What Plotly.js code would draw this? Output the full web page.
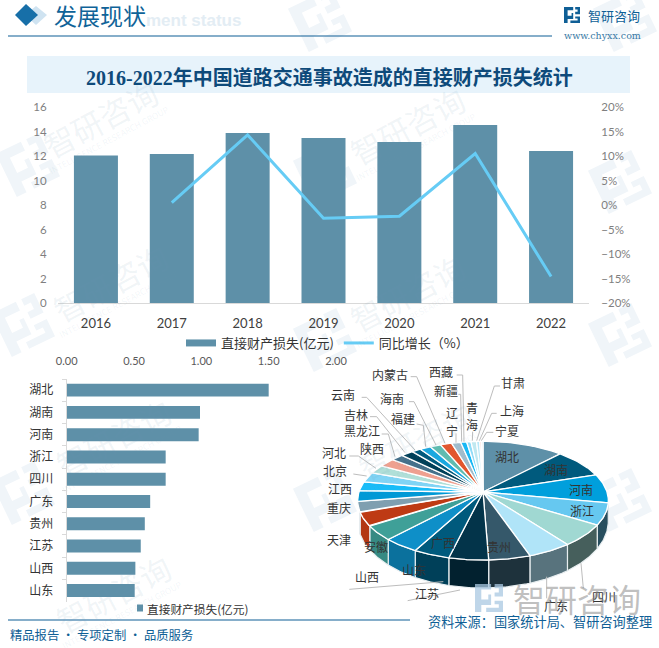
<!DOCTYPE html>
<html><head><meta charset="utf-8">
<script src="https://cdn.plot.ly/plotly-3.0.0.min.js"></script>
<style>html,body{margin:0;padding:0;background:#fff}#c{width:659px;height:648px}</style></head>
<body><div id="c"></div>
<script>
const years=['2016','2017','2018','2019','2020','2021','2022'];
const lossValues=[12.05,12.16,13.88,13.47,13.14,14.53,12.41];
const growthValues=[null,0.5,14.3,-2.7,-2.3,10.5,-14.6];
const provinces=['湖北','湖南','河南','浙江','四川','广东','贵州','江苏','山西','山东','广西','安徽','天津','重庆','江西','北京','河北','陕西','黑龙江','吉林','云南','海南','福建','内蒙古','辽宁','西藏','新疆','青海','甘肃','上海','宁夏'];
const provinceValues=[1.50,0.99,0.98,0.735,0.735,0.62,0.58,0.55,0.51,0.505,0.49,0.46,0.36,0.36,0.31,0.34,0.29,0.30,0.23,0.23,0.17,0.20,0.20,0.21,0.17,0.11,0.08,0.10,0.06,0.03,0.03];
const sliceColors=['#5e90a8','#005a7d','#009fdc','#66c8f0','#a0d8d2','#b0e4f8','#35586a','#03344a','#005a7d','#0e8fc8','#3fa098','#be3a14','#7f9fb0','#0099d6','#18bcf8','#80d4f5','#b0dfd8','#eea090','#45708a','#003f58','#005a7d','#1aa8e0','#60bcb0','#e2562e','#a0bccc','#18b8f5','#90dcf8','#c0e8f0','#b8e8f8','#f0b0a0','#c8e0e8'];
const topTen=provinces.slice(0,10), topTenValues=provinceValues.slice(0,10);

const F='Lato, "Noto Sans CJK SC", sans-serif';
const CJK='"Noto Sans CJK SC", sans-serif';
const W=659,H=648;
const px=(a,b)=>[a/W,b/W], py=(t,b)=>[1-b/H,1-t/H];
const fx=v=>v/W, fy=v=>1-v/H;

// ---- pie geometry (projected disc), from data
const AX=483,AY=492,A=58.1,B=124,P=0.146;
function rim(deg,extra){
  const t=deg*Math.PI/180, x=Math.sin(t), y=-Math.cos(t), w=1-P*y;
  return [AX+B*x/w, AY+A*y/w+(extra||0)];
}
const depth=d=>{const y=-Math.cos(d*Math.PI/180);return 19+9*Math.max(0,y);};
function shade(hex,f){
  const n=parseInt(hex.slice(1),16);
  const c=[(n>>16)&255,(n>>8)&255,n&255].map(v=>Math.round(v*f));
  return `rgb(${c[0]},${c[1]},${c[2]})`;
}
const total=provinceValues.reduce((a,b)=>a+b,0);
const walls=[],tops=[];
let ang=0;
provinceValues.forEach((v,i)=>{
  const a0=ang,a1=ang+v/total*360; ang=a1;
  const xs=[AX],ys=[AY];
  for(let k=0;k<=24;k++){const p=rim(a0+(a1-a0)*k/24);xs.push(p[0]);ys.push(p[1]);}
  xs.push(AX);ys.push(AY);
  tops.push({type:'scatter',mode:'lines',x:xs,y:ys,fill:'toself',fillcolor:sliceColors[i],
    line:{color:'#fff',width:1.3},xaxis:'x3',yaxis:'y4',hoverinfo:'skip',showlegend:false,name:provinces[i]});
  const w0=Math.max(a0,100),w1=Math.min(a1,251.5);
  if(w1>w0){
    const ox=[],oy=[],bx=[],by=[];
    for(let k=0;k<=24;k++){const d=w0+(w1-w0)*k/24;const p=rim(d);ox.push(p[0]);oy.push(p[1]);
      const q=rim(d,depth(d));bx.unshift(q[0]);by.unshift(q[1]);}
    const f=0.38+0.6*Math.pow(Math.max(0,((a0+a1)/2-100)/150),1.5);
    walls.push({type:'scatter',mode:'lines',x:ox.concat(bx,[ox[0]]),y:oy.concat(by,[oy[0]]),fill:'toself',
      fillcolor:shade(sliceColors[i],f),line:{color:'#e8eef0',width:1.2},xaxis:'x3',yaxis:'y4',hoverinfo:'skip',showlegend:false});
  }
});

const traces=[
 ...walls,...tops,
 {type:'bar',x:years,y:lossValues,name:'直接财产损失(亿元)',marker:{color:'#5e90a8'},xaxis:'x',yaxis:'y',hoverinfo:'skip',showlegend:false},
 {type:'scatter',mode:'lines',x:[null],y:[null],name:'直接财产损失(亿元)',line:{color:'#5e90a8',width:7},xaxis:'x',yaxis:'y',hoverinfo:'skip'},
 {type:'scatter',mode:'lines',x:years,y:growthValues,name:'同比增长（%）',line:{color:'#66ccf5',width:3},xaxis:'x',yaxis:'y2',hoverinfo:'skip'},
 {type:'bar',orientation:'h',y:topTen,x:topTenValues,marker:{color:'#5e90a8'},xaxis:'x2',yaxis:'y3',showlegend:false,hoverinfo:'skip'}
];

// ---- annotations
const ann=[];
const T=(text,x,y,size,color,opt)=>ann.push(Object.assign({text,x,y,xref:'x3',yref:'y4',showarrow:false,font:{size,color,family:CJK},xanchor:'center',yanchor:'middle'},opt||{}));

// watermarks
const wm='rgba(110,150,180,0.10)';
[[100,118],[407,125],[110,282],[407,292],[113,437],[415,440],[113,593]].forEach(p=>{
  T('智研咨询',p[0],p[1],31,wm,{textangle:-28});
  T('INTELLIGENCE RESEARCH GROUP',p[0]+8,p[1]+22,8.5,'rgba(110,150,180,0.09)',{textangle:-28});
});

// header
T('ment status',144,20,16,'#e3edf4',{xanchor:'left',font:{size:17,color:'#e3edf4',family:'Liberation Sans',weight:700}});
T('发展现状',52,15,23,'#0f6398',{xanchor:'left'});
T('智研咨询',586,15,13,'#0f5f96',{xanchor:'left'});
T('www.chyxx.com',602,35,9.5,'#3a7aa5',{font:{size:9.5,color:'#3a7aa5',family:'DejaVu Serif'}});
T('2016-2022年中国道路交通事故造成的直接财产损失统计',329,77,20,'#0e4a7a',{font:{size:20,color:'#0e4a7a',family:'"Liberation Serif","Noto Sans CJK SC",serif',weight:700}});

// pie labels
const z2=(a,b)=>[310+a/3,350+b/3], z3=(a,b)=>[310+a/3,480+b/3];
const pieLabelsTop=[['内蒙古',240,73],['西藏',392,65],['新疆',407,122],['青',485,172],['海',485,222],['辽',425,188],['宁',425,240],['甘肃',610,97],['上海',605,180],['宁夏',592,240],['云南',100,132],['海南',247,145],['福建',280,205],['吉林',137,192],['黑龙江',155,240],['陕西',187,296],['河北',73,307],['北京',75,362],['江西',90,415],['湖北',592,318],['湖南',738,358],['河南',813,418]];
pieLabelsTop.forEach(l=>{const p=z2(l[1],l[2]);T(l[0],p[0],p[1],12,'#333');});
const pieLabelsBot=[['浙江',817,90],['重庆',88,82],['天津',88,178],['安徽',198,198],['广西',398,188],['贵州',568,198],['山东',312,268],['山西',172,288],['江苏',350,340],['广东',737,375],['四川',882,350]];
pieLabelsBot.forEach(l=>{const p=z3(l[1],l[2]);T(l[0],p[0],p[1],12,'#333');});

// big watermark + footer
T('智研咨询',577,598,32,'rgba(130,130,130,0.5)');
T('资料来源：国家统计局、智研咨询整理',540,621,13.2,'#0f5f96');
T('精品报告 · 专项定制 · 品质服务',8,635,12.3,'#0f5f96',{xanchor:'left'});
T('直接财产损失(亿元)',145,608,11.7,'#333',{xanchor:'left'});

// ---- shapes (paper-referenced so they sit under every subplot)
const S=[];
const L=(a,b,c,d,color,w)=>S.push({type:'line',xref:'paper',yref:'paper',x0:fx(a),y0:fy(b),x1:fx(c),y1:fy(d),line:{color,width:w||1},layer:'above'});
const R=(a,b,c,d,color,layer)=>S.push({type:'rect',xref:'paper',yref:'paper',x0:fx(a),y0:fy(b),x1:fx(c),y1:fy(d),fillcolor:color,line:{width:0},layer:layer||'below'});
const Pth=(pts,color,layer)=>S.push({type:'path',xref:'paper',yref:'paper',path:pts.map((p,i)=>(i?'L':'M')+fx(p[0]).toFixed(5)+','+fy(p[1]).toFixed(5)).join(' ')+' Z',fillcolor:color,line:{width:0},layer:layer||'below'});
R(27,56,630,93,'#e7f3fb');
R(137,604.5,143,611.5,'#5e90a8','above');
L(8,36,552,36,'#0f5f96',1.2);
L(8,620,410,620,'#0f5f96',1.2);
Pth([[36,6],[47,15],[36,25],[25,15]],'#cfe3f1');
Pth([[26,4],[38,15],[26,26],[15,15]],'#176fa8');
function logo(cx,cy,s,rot,color,layer){
  const parts=[[[-1,-1],[0.15,-1],[0.15,-0.6],[-0.55,-0.6],[-0.55,0.1],[-0.05,0.1],[-0.05,-0.25],[0.15,-0.25],[0.15,0.5],[-0.55,0.5],[-0.55,1],[-1,1]],
    [[0.4,-1],[1,-1],[1,-0.1],[0.4,-0.1],[0.4,-0.4],[0.7,-0.4],[0.7,-0.7],[0.4,-0.7]],
    [[0.4,0.2],[1,0.2],[1,1],[-0.2,1],[-0.2,0.7],[0.7,0.7],[0.7,0.45],[0.4,0.45]]];
  const c=Math.cos(rot),n=Math.sin(rot);
  parts.forEach(pt=>Pth(pt.map(q=>{const x=q[0]*s,y=q[1]*s;return [cx+x*c-y*n,cy+x*n+y*c];}),color,layer));
}
[[28,165],[23,325],[23,493],[325,172],[325,340],[620,182],[620,335],[620,500],[325,500],[625,20],[320,20]].forEach(p=>logo(p[0],p[1],24,-0.45,'#f0f5f9'));
logo(572,15,8,0,'#0f5f96','above');
logo(489,598,14,0,'rgba(170,200,225,0.75)','above');
// leader lines
const lead=(f,pts)=>{for(let i=0;i<pts.length-1;i++){const a=f(pts[i][0],pts[i][1]),b=f(pts[i+1][0],pts[i+1][1]);L(a[0],a[1],b[0],b[1],'#bdbdbd',1);}};
lead(z2,[[302,80],[320,80],[405,280]]);
lead(z2,[[440,75],[458,75],[462,275]]);
lead(z2,[[445,133],[452,133],[455,275]]);
lead(z2,[[488,245],[487,272]]);
lead(z2,[[438,250],[438,278]]);
lead(z2,[[570,108],[553,108],[500,272]]);
lead(z2,[[560,190],[545,190],[508,272]]);
lead(z2,[[550,247],[530,247],[514,272]]);
lead(z2,[[155,142],[170,142],[315,300]]);
lead(z2,[[297,155],[312,155],[378,285]]);
lead(z2,[[320,222],[340,226],[347,290]]);
lead(z2,[[180,200],[200,200],[285,308]]);
lead(z2,[[215,252],[235,252],[255,320]]);
lead(z2,[[118,318],[145,318],[198,355]]);
lead(z2,[[130,372],[170,378]]);
lead(z3,[[118,328],[400,305]]);
lead(z3,[[293,362],[450,330]]);
lead(z3,[[710,355],[710,290]]);
lead(z3,[[820,325],[813,250]]);

const layout={
 width:W,height:H,margin:{l:0,r:0,t:0,b:0},paper_bgcolor:'#fff',plot_bgcolor:'rgba(0,0,0,0)',
 font:{family:F,size:12,color:'#595959'},bargap:0.42,showlegend:true,
 xaxis:{domain:px(58,589),anchor:'y',type:'category',showgrid:false,zeroline:false,showline:true,linecolor:'#d9d9d9',ticks:'outside',ticklen:8,tickcolor:'rgba(0,0,0,0)',tickfont:{size:13,color:'#404040',family:F}},
 yaxis:{domain:py(107,303),anchor:'x',range:[0,16],dtick:2,showgrid:false,zeroline:false,showline:false,ticks:'outside',ticklen:8,tickcolor:'rgba(0,0,0,0)',tickfont:{size:11.5,color:'#7f7f7f',family:F}},
 yaxis2:{domain:py(107,303),anchor:'x',overlaying:'y',side:'right',range:[-20,20],dtick:5,ticksuffix:'%',showgrid:false,zeroline:false,showline:false,ticks:'outside',ticklen:9,tickcolor:'rgba(0,0,0,0)',tickfont:{size:11.5,color:'#7f7f7f',family:F}},
 xaxis2:{domain:px(66.7,336),anchor:'y3',side:'top',range:[0,2],dtick:0.5,tickformat:'.2f',showgrid:false,zeroline:false,showline:false,ticks:'outside',ticklen:9,tickcolor:'rgba(0,0,0,0)',tickfont:{size:11,color:'#595959',family:F}},
 yaxis3:{domain:py(379,601.7),anchor:'x2',type:'category',autorange:'reversed',showgrid:false,zeroline:false,showline:true,linecolor:'#d9d9d9',ticks:'outside',ticklen:4,tickcolor:'#d9d9d9',tickson:'boundaries',ticklabelstandoff:10,tickfont:{size:12,color:'#333',family:CJK}},
 xaxis3:{domain:[0,1],anchor:'y4',range:[0,W],visible:false,fixedrange:true},
 yaxis4:{domain:[0,1],anchor:'x3',range:[H,0],visible:false,fixedrange:true},
 legend:{orientation:'h',x:181/W,xanchor:'left',y:1-343/H,yanchor:'middle',font:{size:13,color:'#333',family:CJK},bgcolor:'rgba(0,0,0,0)',itemwidth:30,traceorder:'normal'},
 annotations:ann,shapes:S
};
Plotly.newPlot('c',traces,layout,{displayModeBar:false,staticPlot:true});
</script></body></html>
